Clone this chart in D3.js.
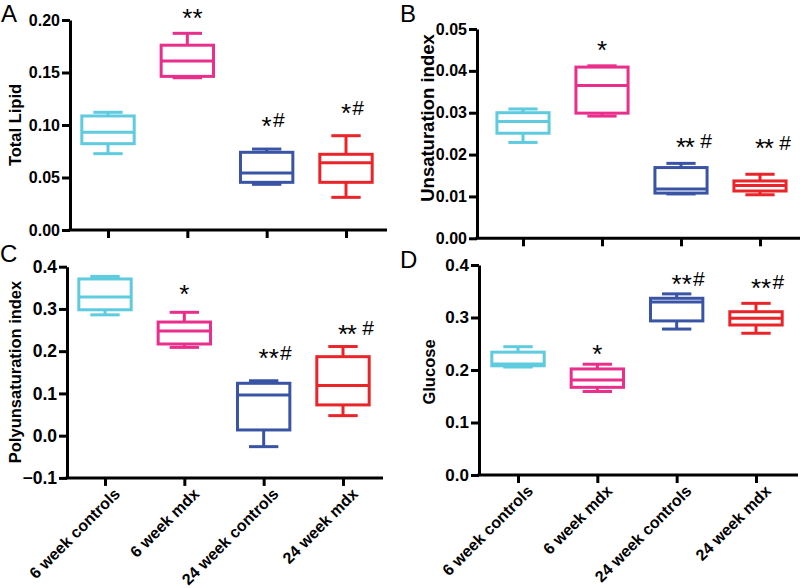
<!DOCTYPE html>
<html><head><meta charset="utf-8">
<script src="https://cdn.jsdelivr.net/npm/d3@7"></script>
<style>body{margin:0;background:#fff}</style>
</head><body><svg id="c" width="800" height="588"></svg>
<script>
const categories = ["6 week controls", "6 week mdx", "24 week controls", "24 week mdx"];
const groupColors = ["#5ecbdf", "#ea2e8b", "#3a54a5", "#ea2428"];

// each box: [whiskerLow, q1, median, q3, whiskerHigh]
const totalLipid = [
  [0.0727, 0.0822, 0.093, 0.1086, 0.1121],
  [0.145, 0.1463, 0.161, 0.176, 0.1873],
  [0.0435, 0.0454, 0.0543, 0.074, 0.0771],
  [0.0311, 0.0454, 0.064, 0.0721, 0.0898]
];
const unsaturation = [
  [0.0229, 0.0251, 0.0279, 0.0300, 0.0309],
  [0.0292, 0.0299, 0.0365, 0.0409, 0.0412],
  [0.0106, 0.0108, 0.0118, 0.0169, 0.0179],
  [0.0104, 0.0113, 0.0126, 0.0137, 0.0153]
];
const polyunsaturation = [
  [0.286, 0.298, 0.328, 0.371, 0.377],
  [0.209, 0.217, 0.248, 0.269, 0.292],
  [-0.026, 0.0135, 0.0965, 0.124, 0.130],
  [0.0474, 0.0728, 0.1185, 0.187, 0.211]
];
const glucose = [
  [0.2057, 0.208, 0.2115, 0.234, 0.2444],
  [0.159, 0.167, 0.181, 0.202, 0.211],
  [0.278, 0.2935, 0.3296, 0.3366, 0.345],
  [0.270, 0.2857, 0.2985, 0.311, 0.327]
];

const totalLipidTicks = [0, 0.05, 0.10, 0.15, 0.20];
const unsaturationTicks = [0, 0.01, 0.02, 0.03, 0.04, 0.05];
const polyTicks = [-0.1, 0, 0.1, 0.2, 0.3, 0.4];
const glucoseTicks = [0, 0.1, 0.2, 0.3, 0.4];

const totalLipidSig = ["", "**", "*#", "*#"];
const totalLipidSigY = [null, 0.2076, 0.1048, 0.1171];
const unsaturationSig = ["", "*", "** #", "** #"];
const unsaturationSigY = [null, 0.0463, 0.0233, 0.0230];
const polySig = ["", "*", "**#", "** #"];
const polySigY = [null, 0.350, 0.198, 0.255];
const glucoseSig = ["", "*", "**#", "**#"];
const glucoseSigY = [null, 0.242, 0.375, 0.3677];

const panels = [
  {letter: "A", lx: 1, ly: 22, title: "Total Lipid", titleSize: 16.5, tx: 15, ty: 125, showLabels: false,
   data: totalLipid, ticks: totalLipidTicks, fmt: ".2f", sig: totalLipidSig, sigY: totalLipidSigY,
   yAxisX: 70, yRange: [230, 20], xFirst: 108, xLast: 346, xEnd: 387, tickFont: 16},
  {letter: "B", lx: 400, ly: 22, title: "Unsaturation index", titleSize: 18.5, tx: 428, ty: 118, showLabels: false,
   data: unsaturation, ticks: unsaturationTicks, fmt: ".2f", sig: unsaturationSig, sigY: unsaturationSigY,
   yAxisX: 477, yRange: [238.3, 29], xFirst: 523, xLast: 760, xEnd: 800, tickFont: 16},
  {letter: "C", lx: 0, ly: 262, title: "Polyunsaturation index", titleSize: 16.5, tx: 15, ty: 372, showLabels: true,
   data: polyunsaturation, ticks: polyTicks, fmt: ".1f", sig: polySig, sigY: polySigY,
   yAxisX: 67, yRange: [477.9, 266.7], xFirst: 105, xLast: 343, xEnd: 383, tickFont: 17.5},
  {letter: "D", lx: 400, ly: 268, title: "Glucose", titleSize: 16.5, tx: 429, ty: 372, showLabels: true,
   data: glucose, ticks: glucoseTicks, fmt: ".1f", sig: glucoseSig, sigY: glucoseSigY,
   yAxisX: 479, yRange: [475, 265], xFirst: 518, xLast: 756, xEnd: 798, tickFont: 17}
];

const svg = d3.select("#c");
const FONT = "'Liberation Sans', Arial, sans-serif";

panels.forEach(p => {
  const g = svg.append("g");
  const y = d3.scaleLinear().domain([p.ticks[0], p.ticks[p.ticks.length - 1]]).range(p.yRange);
  const x = d3.scalePoint().domain(categories).range([p.xFirst, p.xLast]);
  const step = x.step();
  const boxW = step * 0.66, capW = step * 0.37;
  const y0 = p.yRange[0];

  // Y axis
  const ya = g.append("g").attr("transform", `translate(${p.yAxisX},0)`)
    .call(d3.axisLeft(y).tickValues(p.ticks).tickFormat(d3.format(p.fmt)).tickSize(8).tickSizeOuter(0).tickPadding(2));
  ya.select(".domain").attr("stroke", "#000").attr("stroke-width", 3);
  ya.selectAll(".tick line").attr("stroke", "#000").attr("stroke-width", 3);
  ya.selectAll(".tick text").attr("font-family", FONT).attr("font-weight", "bold")
    .attr("font-size", p.tickFont).attr("fill", "#000");

  // X axis
  g.append("line").attr("x1", p.yAxisX - 1.5).attr("x2", p.xEnd).attr("y1", y0).attr("y2", y0)
    .attr("stroke", "#000").attr("stroke-width", 3);
  const xa = g.append("g").attr("transform", `translate(0,${y0})`)
    .call(d3.axisBottom(x).tickSize(8).tickSizeOuter(0).tickFormat(""));
  xa.select(".domain").remove();
  xa.selectAll(".tick line").attr("stroke", "#000").attr("stroke-width", 3);
  if (p.showLabels) {
    g.selectAll(".xlab").data(categories).enter().append("text")
      .attr("transform", d => `translate(${x(d) + 12},${y0 + 13}) rotate(-45)`)
      .attr("text-anchor", "end").attr("dy", "0.35em")
      .attr("font-family", FONT).attr("font-weight", "bold").attr("font-size", 16)
      .attr("fill", "#000").text(d => d);
  }

  // Title
  g.append("text").attr("transform", `translate(${p.tx},${p.ty}) rotate(-90)`)
    .attr("text-anchor", "middle").attr("dy", "0.35em")
    .attr("font-family", FONT).attr("font-weight", "bold").attr("font-size", p.titleSize)
    .attr("fill", "#000").text(p.title);

  // Panel letter
  g.append("text").attr("x", p.lx).attr("y", p.ly)
    .attr("font-family", FONT).attr("font-size", 24).attr("fill", "#000").text(p.letter);

  // Boxes
  p.data.forEach((b, i) => {
    const cx = x(categories[i]);
    const col = groupColors[i];
    const bg = g.append("g").attr("stroke", col).attr("stroke-width", 3).attr("fill", "none");
    bg.append("line").attr("x1", cx).attr("x2", cx).attr("y1", y(b[3])).attr("y2", y(b[4]));
    bg.append("line").attr("x1", cx).attr("x2", cx).attr("y1", y(b[1])).attr("y2", y(b[0]));
    bg.append("line").attr("x1", cx - capW / 2).attr("x2", cx + capW / 2).attr("y1", y(b[4])).attr("y2", y(b[4]));
    bg.append("line").attr("x1", cx - capW / 2).attr("x2", cx + capW / 2).attr("y1", y(b[0])).attr("y2", y(b[0]));
    bg.append("rect").attr("x", cx - boxW / 2).attr("width", boxW)
      .attr("y", y(b[3])).attr("height", y(b[1]) - y(b[3])).attr("fill", "#fff");
    bg.append("line").attr("x1", cx - boxW / 2).attr("x2", cx + boxW / 2).attr("y1", y(b[2])).attr("y2", y(b[2]));
  });

  // Significance marks: asterisks vertically centred with '#'
  p.sig.forEach((s, i) => {
    if (!s) return;
    const cy = y(p.sigY[i]);
    const t = g.append("text").attr("x", x(categories[i])).attr("y", cy + 7.5)
      .attr("text-anchor", "middle").attr("font-family", FONT).attr("font-size", 21).attr("fill", "#000");
    s.split("").forEach(ch => {
      if (ch === "*") {
        t.append("tspan").attr("y", cy + 15).attr("font-size", 26).text("*");
      } else if (ch === "#") {
        t.append("tspan").attr("y", cy + 7.5).attr("dx", 2).text("#");
      } else {
        t.append("tspan").attr("font-size", 10).text("\u00a0");
      }
    });
  });
});
</script>
</body></html>
